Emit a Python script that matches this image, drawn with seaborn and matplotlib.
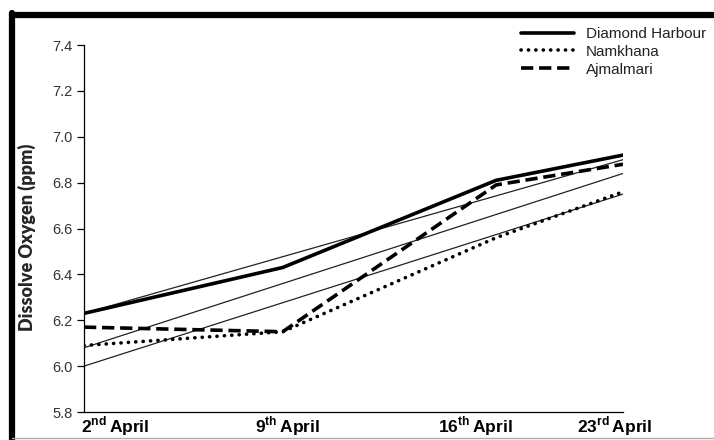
import numpy as np
import pandas as pd
import matplotlib
matplotlib.use("Agg")
import matplotlib.pyplot as plt
import seaborn as sns
from matplotlib.lines import Line2D

# ---- data ----
dates = ["2nd April", "9th April", "16th April", "23rd April"]
x_pos = [0.0, 1.106, 2.294, 3.0]          # positions of sampling dates along the axis
diamond = [6.23, 6.43, 6.81, 6.92]
namkhana = [6.09, 6.15, 6.56, 6.76]
ajmalmari = [6.17, 6.15, 6.79, 6.88]
series_names = ["Diamond Harbour", "Namkhana", "Ajmalmari"]

# linear trend lines (start, end)
trend_x = [0.0, 3.0]
trend_diamond = [6.23, 6.90]
trend_ajmalmari = [6.08, 6.84]
trend_namkhana = [6.00, 6.75]

tick_pos = [0.172, 1.133, 2.178, 2.956]
tick_labels = [r"2$^{\mathbf{nd}}\,$April", r"9$^{\mathbf{th}}\,$April",
               r"16$^{\mathbf{th}}\,$April", r"23$^{\mathbf{rd}}\,$April"]
yticks = [5.8, 6.0, 6.2, 6.4, 6.6, 6.8, 7.0, 7.2, 7.4]

sns.set_theme(style="white")
plt.rcParams["font.family"] = ["Liberation Sans", "DejaVu Sans"]
plt.rcParams["mathtext.fontset"] = "custom"
plt.rcParams["mathtext.rm"] = "Liberation Sans"
plt.rcParams["mathtext.bf"] = "Liberation Sans:bold"

df = pd.DataFrame({
    "x": x_pos * 3,
    "y": diamond + namkhana + ajmalmari,
    "site": [s for s in series_names for _ in x_pos],
})
tr = pd.DataFrame({
    "x": trend_x * 3,
    "y": trend_diamond + trend_ajmalmari + trend_namkhana,
    "t": [s for s in ["td", "ta", "tn"] for _ in trend_x],
})

fig = plt.figure(figsize=(7.14, 4.40), dpi=100)
ax = fig.add_axes([84/714, 28/440, (623-84)/714, (412-45)/440])

sns.lineplot(data=tr, x="x", y="y", units="t", estimator=None, color="#222222",
             lw=0.9, ax=ax, legend=False)

dashes = {"Diamond Harbour": "", "Namkhana": (0.05, 2.0), "Ajmalmari": (3.4, 1.6)}
sns.lineplot(data=df, x="x", y="y", style="site", dashes=dashes, color="black",
             lw=2.6, ax=ax, legend=False)
for ln in ax.lines[-3:]:
    ln.set_dash_capstyle("round")
ax.lines[-1].set_dash_capstyle("butt")

ax.set_xlim(0, 3)
ax.set_ylim(5.8, 7.4)
ax.set_yticks(yticks)
ax.set_yticklabels([f"{v:.1f}" for v in yticks], fontsize=10.5, color="#333333")
ax.set_xticks(tick_pos)
ax.set_xticklabels(tick_labels, fontsize=12.5, fontweight="bold", color="black")
ax.tick_params(axis="y", which="major", direction="out", length=5, width=0.9,
               color="black", left=True, pad=3)
ax.tick_params(axis="x", length=0, pad=2)
ax.set_xlabel("")
ax.set_ylabel("")
for s in ["top", "right"]:
    ax.spines[s].set_visible(False)
for s in ["left", "bottom"]:
    ax.spines[s].set_color("black")
    ax.spines[s].set_linewidth(0.9)

fig.text(27/714, 1 - 237/440, "Dissolve Oxygen (ppm)", rotation=90,
         fontsize=13, fontweight="heavy", family=["Lato", "DejaVu Sans"],
         ha="center", va="center")

handles = [Line2D([], [], color="black", lw=2.6, ls="-"),
           Line2D([], [], color="black", lw=2.6, ls=(0, (0.05, 2.0)), dash_capstyle="round"),
           Line2D([], [], color="black", lw=2.6, ls=(0, (3.4, 1.6)))]
fig.legend(handles, series_names, loc="upper left", bbox_to_anchor=(521/714, 1 - 27/440),
           frameon=False, fontsize=11, handlelength=3.5, handletextpad=0.75,
           labelspacing=0.25, borderaxespad=0, borderpad=0, labelcolor="#222222")

# outer frame
fig.add_artist(Line2D([12/714, 1], [1 - 15/440, 1 - 15/440], transform=fig.transFigure,
                      color="black", lw=4.5))
fig.add_artist(Line2D([12/714, 12/714], [0, 1 - 13/440], transform=fig.transFigure,
                      color="black", lw=4.5))
fig.add_artist(Line2D([12/714, 1], [2/440, 2/440], transform=fig.transFigure,
                      color="#aaaaaa", lw=1))

fig.savefig("out.png", dpi=100)
